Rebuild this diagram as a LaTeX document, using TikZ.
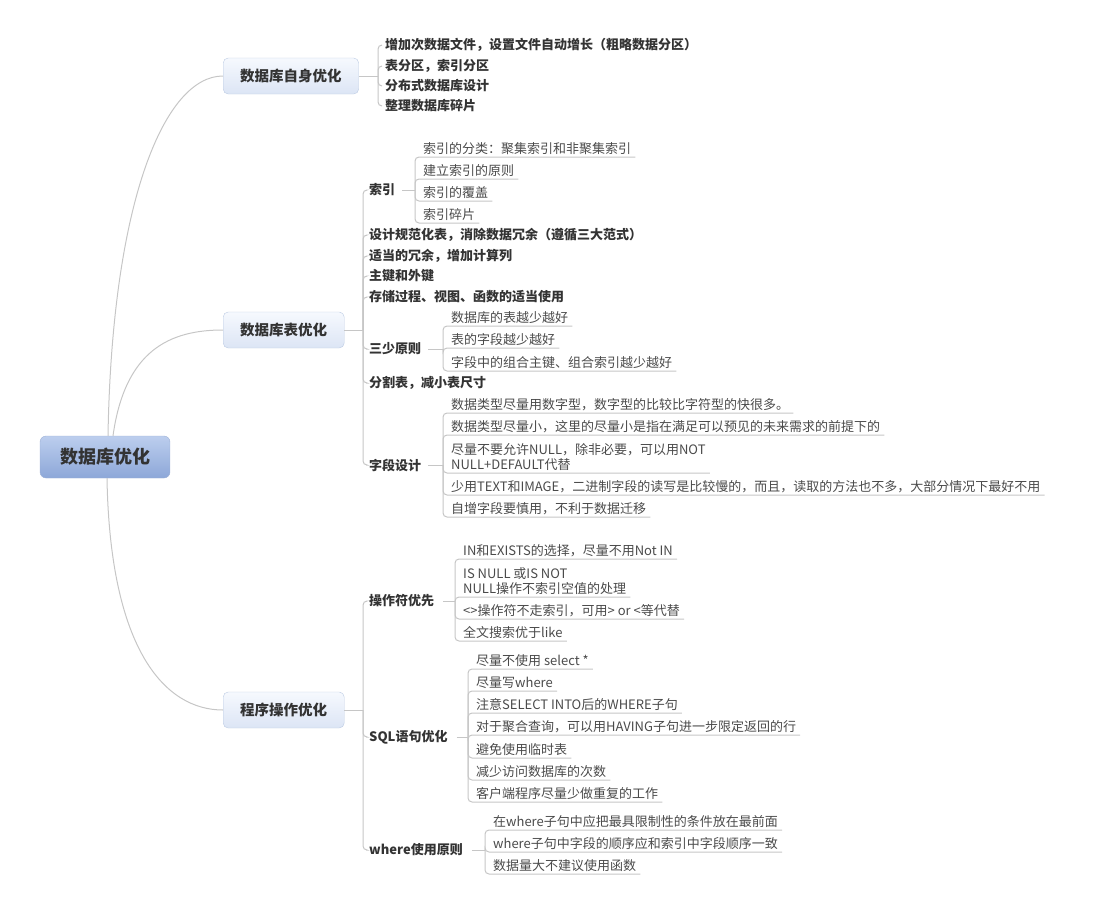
\documentclass[tikz,border=0pt]{standalone}
\usepackage{fontspec}
\setmainfont{Noto Sans CJK SC}
\usetikzlibrary{positioning}

\definecolor{linegray}{HTML}{C6C6C6}
\definecolor{inkgray}{HTML}{333333}
\definecolor{leafgray}{HTML}{4A4A4A}
\definecolor{rootedge}{HTML}{9DB1D6}
\definecolor{roottop}{HTML}{BCCEEE}
\definecolor{rootbot}{HTML}{8DA7D8}
\definecolor{topicedge}{HTML}{BCCBE3}
\definecolor{topictop}{HTML}{F6F9FE}
\definecolor{topicbot}{HTML}{DCE5F5}

\begin{document}
\begin{tikzpicture}[x=1pt, y=-1pt,
    root/.style={draw=rootedge, rounded corners=6pt, top color=roottop, bottom color=rootbot,
        minimum width=130pt, minimum height=42pt, text=inkgray,
        font=\fontsize{18}{20}\selectfont\bfseries},
    topic/.style={draw=topicedge, rounded corners=5pt, top color=topictop, bottom color=topicbot,
        anchor=west, inner xsep=17pt, minimum height=36pt, text=inkgray,
        font=\fontsize{14.5}{16}\selectfont\bfseries},
    branch/.style={draw=linegray, line width=1pt, rounded corners=4pt},
    item/.style={anchor=west, inner xsep=3pt, inner ysep=1pt, text=inkgray,
        font=\fontsize{13}{15}\selectfont\bfseries},
    leaf/.style={anchor=south west, inner xsep=4pt, inner ysep=2pt, align=left, text=leafgray,
        font=\fontsize{13}{15}\selectfont}
]
\useasboundingbox (0,0) rectangle (1109,913);

% Root and main topics
\node[root] (root) at (105,457) {数据库优化};
\node[topic] (self) at (223,76) {数据库自身优化};
\node[topic] (table) at (223,330) {数据库表优化};
\node[topic] (prog) at (223,710) {程序操作优化};

\draw[branch] ([xshift=3pt]root.north) .. controls (112,200) and (165,76) .. (self.west);
\draw[branch] ([xshift=8pt]root.north) .. controls (125,350) and (170,330) .. (table.west);
\draw[branch] ([xshift=2pt]root.south) .. controls (110,650) and (165,710) .. (prog.west);

% Joints of the brackets
\coordinate (jSelf) at (378,76);
\coordinate (jTable) at (363,330);
\coordinate (jProg) at (363,710);

% 数据库自身优化
\draw[branch] (self.east) -- (jSelf);
\foreach \i/\y/\txt in {1/45/{增加次数据文件，设置文件自动增长（粗略数据分区）},
                        2/66/{表分区，索引分区},
                        3/86/{分布式数据库设计},
                        4/106/{整理数据库碎片}} {
    \node[item] (self-\i) at (382,\y) {\txt};
    \draw[branch] (jSelf) |- (self-\i.west);
}

% 数据库表优化
\draw[branch] (table.east) -- (jTable);
\foreach \i/\y/\txt in {1/190/{索引},
                        2/235/{设计规范化表，消除数据冗余（遵循三大范式）},
                        3/256/{适当的冗余，增加计算列},
                        4/276/{主键和外键},
                        5/297/{存储过程、视图、函数的适当使用},
                        6/349/{三少原则},
                        7/383/{分割表，减小表尺寸},
                        8/465/{字段设计}} {
    \node[item] (table-\i) at (366,\y) {\txt};
    \draw[branch] (jTable) |- (table-\i.west);
}

% 索引
\coordinate (jIdx) at (415,190);
\draw[branch] ([xshift=4pt]table-1.east) -- (jIdx);
\foreach \i/\uy/\txt in {1/157/{索引的分类：聚集索引和非聚集索引},
                         2/179/{建立索引的原则},
                         3/201/{索引的覆盖},
                         4/223/{索引碎片}} {
    \node[leaf] (idx-\i) at (419,\uy) {\txt};
    \draw[branch] (jIdx) |- (idx-\i.south east);
}

% 三少原则
\coordinate (jFew) at (443,349);
\draw[branch] ([xshift=4pt]table-6.east) -- (jFew);
\foreach \i/\uy/\txt in {1/326/{数据库的表越少越好},
                         2/348/{表的字段越少越好},
                         3/371/{字段中的组合主键、组合索引越少越好}} {
    \node[leaf] (few-\i) at (447,\uy) {\txt};
    \draw[branch] (jFew) |- (few-\i.south east);
}

% 字段设计
\coordinate (jField) at (443,465);
\draw[branch] ([xshift=4pt]table-8.east) -- (jField);
\foreach \i/\uy/\txt in {1/413/{数据类型尽量用数字型，数字型的比较比字符型的快很多。},
                         2/435/{数据类型尽量小，这里的尽量小是指在满足可以预见的未来需求的前提下的},
                         3/473/{尽量不要允许NULL，除非必要，可以用NOT\\NULL+DEFAULT代替},
                         4/495/{少用TEXT和IMAGE，二进制字段的读写是比较慢的，而且，读取的方法也不多，大部分情况下最好不用},
                         5/517/{自增字段要慎用，不利于数据迁移}} {
    \node[leaf] (field-\i) at (447,\uy) {\txt};
    \draw[branch] (jField) |- (field-\i.south east);
}

% 程序操作优化
\draw[branch] (prog.east) -- (jProg);
\foreach \i/\y/\txt in {1/601/{操作符优先},
                        2/737/{SQL语句优化},
                        3/850/{where使用原则}} {
    \node[item] (prog-\i) at (366,\y) {\txt};
    \draw[branch] (jProg) |- (prog-\i.west);
}

% 操作符优先
\coordinate (jOp) at (455,601);
\draw[branch] ([xshift=6pt]prog-1.east) -- (jOp);
\foreach \i/\uy/\txt in {1/559/{IN和EXISTS的选择，尽量不用Not IN},
                         2/597/{IS NULL 或IS NOT\\NULL操作不索引空值的处理},
                         3/619/{<>操作符不走索引，可用> or <等代替},
                         4/641/{全文搜索优于like}} {
    \node[leaf] (op-\i) at (459,\uy) {\txt};
    \draw[branch] (jOp) |- (op-\i.south east);
}

% SQL语句优化
\coordinate (jSql) at (468,737);
\draw[branch] ([xshift=6pt]prog-2.east) -- (jSql);
\foreach \i/\uy/\txt in {1/669/{尽量不使用 select *},
                         2/691/{尽量写where},
                         3/713/{注意SELECT INTO后的WHERE子句},
                         4/735/{对于聚合查询，可以用HAVING子句进一步限定返回的行},
                         5/758/{避免使用临时表},
                         6/780/{减少访问数据库的次数},
                         7/802/{客户端程序尽量少做重复的工作}} {
    \node[leaf] (sql-\i) at (472,\uy) {\txt};
    \draw[branch] (jSql) |- (sql-\i.south east);
}

% where使用原则
\coordinate (jWhere) at (485,850);
\draw[branch] ([xshift=6pt]prog-3.east) -- (jWhere);
\foreach \i/\uy/\txt in {1/830/{在where子句中应把最具限制性的条件放在最前面},
                         2/852/{where子句中字段的顺序应和索引中字段顺序一致},
                         3/874/{数据量大不建议使用函数}} {
    \node[leaf] (where-\i) at (489,\uy) {\txt};
    \draw[branch] (jWhere) |- (where-\i.south east);
}

\end{tikzpicture}
\end{document}
